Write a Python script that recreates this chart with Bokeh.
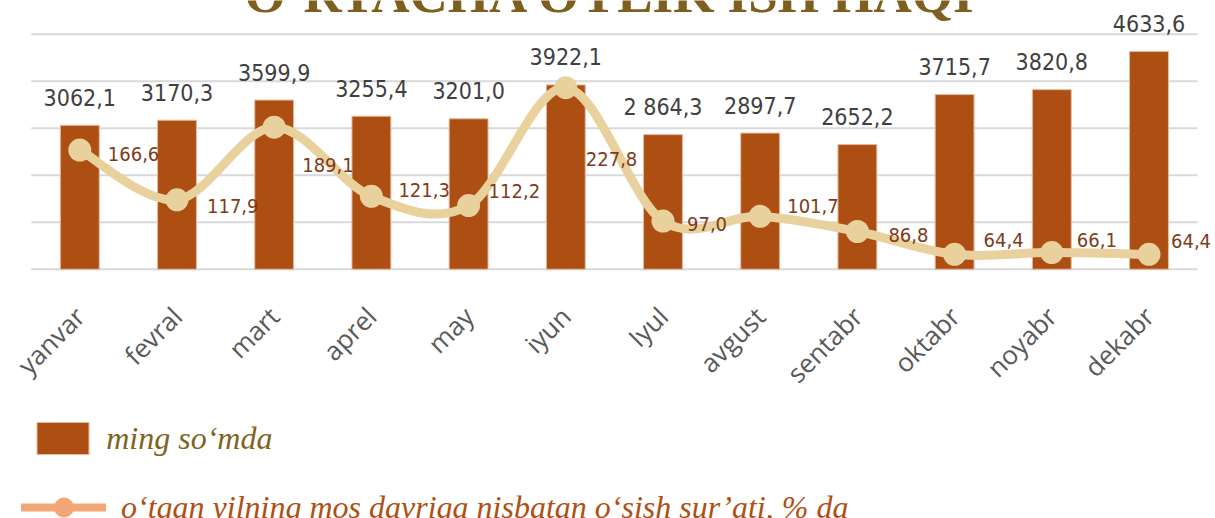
import math
import numpy as np
from bokeh.plotting import figure
from bokeh.layouts import column
from bokeh.models import (ColumnDataSource, Range1d, FixedTicker,
                          Legend, LegendItem)
from bokeh.core.properties import value
from bokeh.embed import file_html
from bokeh.resources import INLINE

# ---------------- data ----------------
months = ["yanvar", "fevral", "mart", "aprel", "may", "iyun", "Iyul",
          "avgust", "sentabr", "oktabr", "noyabr", "dekabr"]
salary = [3062.1, 3170.3, 3599.9, 3255.4, 3201.0, 3922.1, 2864.3,
          2897.7, 2652.2, 3715.7, 3820.8, 4633.6]
salary_labels = ["3062,1", "3170,3", "3599,9", "3255,4", "3201,0", "3922,1",
                 "2 864,3", "2897,7", "2652,2", "3715,7", "3820,8", "4633,6"]
growth = [166.6, 117.9, 189.1, 121.3, 112.2, 227.8, 97.0, 101.7, 86.8,
          64.4, 66.1, 64.4]
grid_values = [0, 1000, 2000, 3000, 4000, 5000]

title_text = "O\u2018RTACHA OYLIK ISH HAQI"
legend_bar = "ming so\u2018mda"
legend_line = "o\u2018tgan yilning mos davriga nisbatan o\u2018sish sur\u2019ati, % da"

# label placement tweaks (screen px) for the growth labels
growth_dx = [28, 30, 28, 27, 20, 20, 24, 27, 31, 29, 25, 22]
growth_dy = [4, 6, 38, -6, -15, 71, 3, -10, 4, -14, -13, -13]

# ---------------- layout constants ----------------
W, H = 1215, 518
MAIN_H = 405
FRAME_H = 275
PX_X = 97.2
PLOT_LEFT = 30.7
x_start = -0.5 - PLOT_LEFT / PX_X
x_end = x_start + W / PX_X

Y0_PX, Y5K_PX = 270.7, 34.0
ppu = (Y0_PX - Y5K_PX) / 5000.0
y_end = Y0_PX / ppu
y_start = -(FRAME_H - Y0_PX) / ppu

ppu2 = 1.0274
v_bottom = 49.8
y2_end = v_bottom + Y0_PX / ppu2
y2_start = v_bottom - (FRAME_H - Y0_PX) / ppu2

BAR_COLOR = "#AD4E13"
LINE_COLOR = "#E9D19E"
LEG_LINE_COLOR = "#F3A676"
NUM_FONT = "DejaVu Sans Condensed"

p = figure(width=W, height=MAIN_H, x_range=Range1d(x_start, x_end),
           y_range=Range1d(y_start, y_end), output_backend="svg",
           toolbar_location=None, y_axis_location=None,
           min_border_left=0, min_border_right=0, min_border_top=0,
           min_border_bottom=MAIN_H - FRAME_H, outline_line_color=None,
           background_fill_color="white", border_fill_color="white")
p.extra_y_ranges = {"pct": Range1d(y2_start, y2_end)}
p.grid.visible = False

idx = list(range(len(months)))

# grid lines
p.segment(x0=[-0.5] * len(grid_values), x1=[11.5] * len(grid_values),
          y0=grid_values, y1=grid_values, line_color="#D9D9D9", line_width=2)

# title (cut off at the top like the source)
p.text(x=[5.46], y=[(Y0_PX + 6.3) / ppu], text=[title_text],
       text_align="center", text_baseline="alphabetic",
       text_font=value("Liberation Serif"), text_font_style="bold",
       text_font_size="53px", text_color="#7F5F1F")

# bars
src = ColumnDataSource(dict(x=idx, top=salary, lab=salary_labels))
bars = p.vbar(x="x", top="top", width=0.4, source=src, fill_color=BAR_COLOR,
              line_color="#E9B89C", line_width=1)
p.text(x="x", y="top", text="lab", source=src, text_align="center",
       text_baseline="alphabetic", y_offset=-28,
       text_font=value(NUM_FONT), text_font_size="23px", text_color="#404040")

# smoothed line through growth values (cubic bezier, Catmull-Rom tangents)
g = np.array(growth, dtype=float)
xs = np.array(idx, dtype=float)
n = len(g)
mx = np.empty(n)
my = np.empty(n)
for i in range(n):
    a = max(i - 1, 0)
    b = min(i + 1, n - 1)
    mx[i] = (xs[b] - xs[a]) / 2.0
    my[i] = (g[b] - g[a]) / 2.0
bz = ColumnDataSource(dict(
    x0=xs[:-1], y0=g[:-1], x1=xs[1:], y1=g[1:],
    cx0=xs[:-1] + mx[:-1] / 3.0, cy0=g[:-1] + my[:-1] / 3.0,
    cx1=xs[1:] - mx[1:] / 3.0, cy1=g[1:] - my[1:] / 3.0))
p.bezier(x0="x0", y0="y0", x1="x1", y1="y1", cx0="cx0", cy0="cy0",
         cx1="cx1", cy1="cy1", source=bz, line_color=LINE_COLOR,
         line_width=9, line_cap="round", y_range_name="pct")
gsrc = ColumnDataSource(dict(
    x=idx, y=growth, lab=[f"{v:.1f}".replace(".", ",") for v in growth],
    dx=growth_dx, dy=growth_dy))
p.scatter(x="x", y="y", source=gsrc, size=23, marker="circle",
          fill_color=LINE_COLOR, line_color=None, y_range_name="pct")
p.text(x="x", y="y", text="lab", source=gsrc, x_offset="dx", y_offset="dy",
       text_align="left", text_baseline="middle", y_range_name="pct",
       text_font=value(NUM_FONT), text_font_size="20px", text_color="#7E3B18")

# x axis
ax = p.xaxis[0]
ax.ticker = FixedTicker(ticks=idx)
ax.major_label_overrides = {i: m for i, m in enumerate(months)}
ax.major_label_orientation = math.pi / 4
ax.major_label_text_font = "Open Sans"
ax.major_label_text_font_size = "26px"
ax.major_label_text_color = "#595959"
ax.major_label_standoff = 32
ax.axis_line_color = None
ax.major_tick_line_color = None
ax.minor_tick_line_color = None

# ---------------- legend strip below ----------------
LEG_H = H - MAIN_H
pl = figure(width=W, height=LEG_H, x_range=Range1d(0, 1), y_range=Range1d(0, 1),
            output_backend="svg", toolbar_location=None,
            x_axis_location=None, y_axis_location=None,
            min_border_left=0, min_border_right=0, min_border_top=0,
            min_border_bottom=0, outline_line_color=None,
            background_fill_color="white", border_fill_color="white")
pl.grid.visible = False
nan = float("nan")
leg_bar = pl.vbar(x=[nan], top=[nan], width=0.4, fill_color=BAR_COLOR,
                  line_color="#E9B89C", line_width=1)
leg_line = pl.line(x=[nan, nan], y=[nan, nan], line_color=LEG_LINE_COLOR,
                   line_width=8, line_cap="round")
leg_dot = pl.scatter(x=[nan], y=[nan], size=20, marker="circle",
                     fill_color=LEG_LINE_COLOR, line_color=None)

leg1 = Legend(items=[LegendItem(label=legend_bar, renderers=[leg_bar])],
              location=(30.2, 60), glyph_width=65, glyph_height=40,
              label_text_font="Liberation Serif", label_text_font_style="italic",
              label_text_font_size="32px", label_text_color="#7F6322",
              label_standoff=11, border_line_color=None,
              background_fill_alpha=0, margin=0, padding=0)
leg2 = Legend(items=[LegendItem(label=legend_line,
                                renderers=[leg_line, leg_dot])],
              location=(21, -14), glyph_width=85, glyph_height=50,
              label_text_font="Liberation Serif", label_text_font_style="italic",
              label_text_font_size="32px", label_text_color="#B04F14",
              label_standoff=15, border_line_color=None,
              background_fill_alpha=0, margin=0, padding=0)
pl.add_layout(leg1)
pl.add_layout(leg2)

layout = column(p, pl, spacing=0)
open("out.html", "w").write(file_html(layout, INLINE))
